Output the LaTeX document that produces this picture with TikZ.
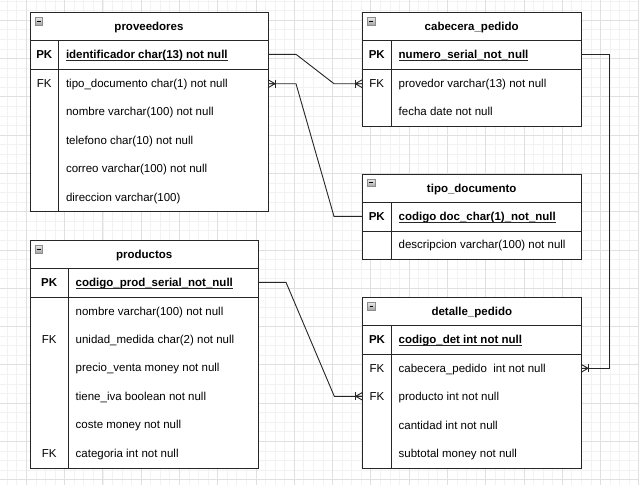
\documentclass[tikz,border=0pt]{standalone}
\usepackage{fontspec}
\setmainfont{Liberation Sans}
\tikzset{
  crowin/.pic={
    \draw[conn] (-7,-4) -- (-7,4);
    \draw[conn] (-7,0) -- (0,-4) (-7,0) -- (0,0) (-7,0) -- (0,4);
  },
  crowout/.pic={
    \draw[conn] (7,-4) -- (7,4);
    \draw[conn] (7,0) -- (0,-4) (7,0) -- (0,0) (7,0) -- (0,4);
  }
}
\begin{document}
\begin{tikzpicture}[x=1pt,y=-1pt,
  every node/.style={font=\fontsize{11.5}{13}\selectfont, text=black, inner sep=0pt, outer sep=0pt},
  minorgrid/.style={draw=black!5, line width=0.6pt},
  majorgrid/.style={draw=black!12, line width=0.6pt},
  tbl/.style={draw=black!85, fill=white, line width=0.9pt},
  sep/.style={draw=black!85, line width=0.9pt},
  title/.style={anchor=base, font=\fontsize{11.5}{13}\selectfont\bfseries},
  pklab/.style={anchor=base, font=\fontsize{11.5}{13}\selectfont\bfseries},
  fklab/.style={anchor=base},
  fld/.style={anchor=base west},
  pkfld/.style={anchor=base west, font=\fontsize{11.5}{13}\selectfont\bfseries},
  rowbox/.style={anchor=west, minimum height=20pt, draw=none, fill=none},
  conn/.style={draw=black!85, line width=0.9pt},
  uline/.style={draw=black!85, line width=0.8pt},
  minbox/.style={draw=black!45, top color=black!8, bottom color=black!35, line width=0.5pt},
  minbar/.style={draw=black, line width=0.8pt},
]
\useasboundingbox (0,0) rectangle (639,485);
\fill[white] (0,0) rectangle (639,485);
% grid
\foreach \i in {0,...,66} { \draw[minorgrid] ({7.1+9.57*\i},0) -- ({7.1+9.57*\i},485); }
\foreach \i in {0,...,50} { \draw[minorgrid] (0,{1+9.57*\i}) -- (639,{1+9.57*\i}); }
\foreach \i in {0,...,16} { \draw[majorgrid] ({26.2+38.28*\i},0) -- ({26.2+38.28*\i},485); }
\foreach \i in {0,...,12} { \draw[majorgrid] (0,{20.2+38.28*\i}) -- (639,{20.2+38.28*\i}); }

% ---------------- proveedores
\draw[tbl] (30,12.3) rectangle (268,211);
\draw[sep] (30,40.3) -- (268,40.3);
\draw[sep] (30,69) -- (268,69);
\draw[sep] (58.7,40.3) -- (58.7,211);
\draw[minbox] (35,17.3) rectangle ++(7.5,7.5);
\draw[minbar] (36.8,21.05) -- ++(3.9,0);
\node[title] (provT) at (149,30.4) {proveedores};
\node[pklab] (provPKk) at (44.3,58.4) {PK};
\node[pkfld] (provPKt) at (66,58.4) {identificador char(13) not null};
\node[fklab] (provFKk) at (44.3,87.7) {FK};
\node[fld] (provF1t) at (66,87.7) {tipo\_documento char(1) not null};
\node[fld] (provF2t) at (66,115.9) {nombre varchar(100) not null};
\node[fld] (provF3t) at (66,144.3) {telefono char(10) not null};
\node[fld] (provF4t) at (66,172.5) {correo varchar(100) not null};
\node[fld] (provF5t) at (66,201.1) {direccion varchar(100)};
\node[rowbox, minimum width=238pt] (provPK) at (30,54.3) {};
\node[rowbox, minimum width=238pt] (provF1) at (30,83.7) {};

% ---------------- cabecera_pedido
\draw[tbl] (362.3,12.3) rectangle (581,126);
\draw[sep] (362.3,40.3) -- (581,40.3);
\draw[sep] (362.3,69) -- (581,69);
\draw[sep] (391.3,40.3) -- (391.3,126);
\draw[minbox] (367.3,17.3) rectangle ++(7.5,7.5);
\draw[minbar] (369.1,21.05) -- ++(3.9,0);
\node[title] (cabT) at (471.7,30.4) {cabecera\_pedido};
\node[pklab] (cabPKk) at (376.8,58.4) {PK};
\node[pkfld] (cabPKt) at (398.7,58.4) {numero\_serial\_not\_null};
\node[fklab] (cabFKk) at (376.8,87.7) {FK};
\node[fld] (cabF1t) at (398.7,87.7) {provedor varchar(13) not null};
\node[fld] (cabF2t) at (398.7,115.8) {fecha date not null};
\node[rowbox, minimum width=218.7pt] (cabPK) at (362.3,54.3) {};
\node[rowbox, minimum width=218.7pt] (cabF1) at (362.3,83.7) {};

% ---------------- tipo_documento
\draw[tbl] (362.3,174) rectangle (581,259);
\draw[sep] (362.3,202.3) -- (581,202.3);
\draw[sep] (362.3,231) -- (581,231);
\draw[sep] (391.3,202.3) -- (391.3,259);
\draw[minbox] (367.3,179) rectangle ++(7.5,7.5);
\draw[minbar] (369.1,182.75) -- ++(3.9,0);
\node[title] (tipoT) at (471.7,192.1) {tipo\_documento};
\node[pklab] (tipoPKk) at (376.8,220.5) {PK};
\node[pkfld] (tipoPKt) at (398.7,220.5) {codigo doc\_char(1)\_not\_null};
\node[fld] (tipoF1t) at (398.7,248.6) {descripcion varchar(100) not null};
\node[rowbox, minimum width=218.7pt] (tipoPK) at (362.3,216.4) {};

% ---------------- productos
\draw[tbl] (30,240.3) rectangle (258.3,468);
\draw[sep] (30,268.3) -- (258.3,268.3);
\draw[sep] (30,297) -- (258.3,297);
\draw[sep] (68.3,268.3) -- (68.3,468);
\draw[minbox] (35,245.3) rectangle ++(7.5,7.5);
\draw[minbar] (36.8,249.05) -- ++(3.9,0);
\node[title] (prodT) at (144.2,258.4) {productos};
\node[pklab] (prodPKk) at (49.2,286.4) {PK};
\node[pkfld] (prodPKt) at (75.7,286.4) {codigo\_prod\_serial\_not\_null};
\node[fld] (prodF1t) at (75.7,315.1) {nombre varchar(100) not null};
\node[fklab] (prodFK1k) at (49.2,343.4) {FK};
\node[fld] (prodF2t) at (75.7,343.4) {unidad\_medida char(2) not null};
\node[fld] (prodF3t) at (75.7,371.8) {precio\_venta money not null};
\node[fld] (prodF4t) at (75.7,400.1) {tiene\_iva boolean not null};
\node[fld] (prodF5t) at (75.7,428.8) {coste money not null};
\node[fklab] (prodFK2k) at (49.2,457.4) {FK};
\node[fld] (prodF6t) at (75.7,457.4) {categoria int not null};
\node[rowbox, minimum width=228.3pt] (prodPK) at (30,282.3) {};

% ---------------- detalle_pedido
\draw[tbl] (362.7,297.3) rectangle (581,468);
\draw[sep] (362.7,325.3) -- (581,325.3);
\draw[sep] (362.7,354) -- (581,354);
\draw[sep] (391.3,325.3) -- (391.3,468);
\draw[minbox] (367.7,302.3) rectangle ++(7.5,7.5);
\draw[minbar] (369.5,306.05) -- ++(3.9,0);
\node[title] (detT) at (471.8,315.4) {detalle\_pedido};
\node[pklab] (detPKk) at (377,343.4) {PK};
\node[pkfld] (detPKt) at (398.7,343.4) {codigo\_det int not null};
\node[fklab] (detFK1k) at (377,372.4) {FK};
\node[fld] (detF1t) at (398.7,372.4) {cabecera\_pedido\ \ int not null};
\node[fklab] (detFK2k) at (377,400.4) {FK};
\node[fld] (detF2t) at (398.7,400.4) {producto int not null};
\node[fld] (detF3t) at (398.7,429.1) {cantidad int not null};
\node[fld] (detF4t) at (398.7,457.1) {subtotal money not null};
\node[rowbox, minimum width=218.3pt] (detF1) at (362.7,368.3) {};
\node[rowbox, minimum width=218.3pt] (detF2) at (362.7,396.3) {};

% ---------------- underlines of primary keys
\foreach \n in {provPKt,cabPKt,tipoPKt,prodPKt,detPKt} {
  \draw[uline] ([yshift=-1.6pt]\n.base west) -- ([yshift=-1.6pt]\n.base east);
}

% ---------------- connectors
\draw[conn] (provPK.east) -- ++(28,0) -- ([xshift=-28.3pt]cabF1.west) -- (cabF1.west);
\pic at (cabF1.west) {crowin};
\draw[conn] (provF1.east) -- ++(28,0) -- ([xshift=-28.3pt]tipoPK.west) -- (tipoPK.west);
\pic at (provF1.east) {crowout};
\draw[conn] (prodPK.east) -- ++(27.7,0) -- ([xshift=-28.4pt]detF2.west) -- (detF2.west);
\pic at (detF2.west) {crowin};
\draw[conn] (cabPK.east) -- ++(28.3,0) |- (detF1.east);
\pic at (detF1.east) {crowout};
\end{tikzpicture}
\end{document}
